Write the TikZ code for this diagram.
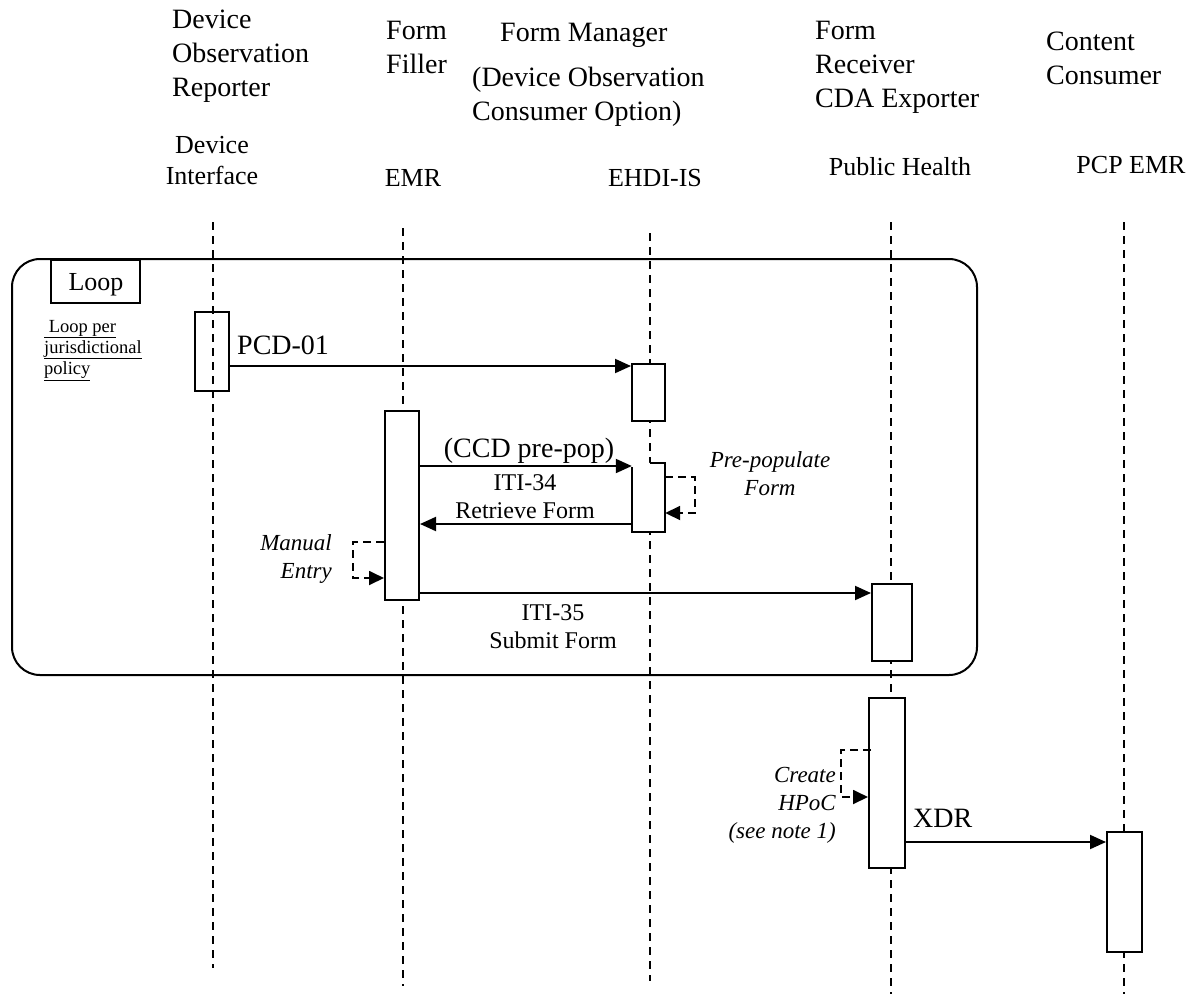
\documentclass[tikz,border=0pt]{standalone}
\usepackage{fontspec}
\setmainfont{Liberation Serif}
\usetikzlibrary{arrows.meta,calc}
\begin{document}
\begin{tikzpicture}[x=1pt,y=-1pt,
  hdr/.style={inner sep=0pt,font=\fontsize{28}{34}\selectfont},
  sys/.style={inner sep=0pt,font=\fontsize{26}{31}\selectfont},
  big/.style={inner sep=0pt,font=\fontsize{28}{34}\selectfont},
  mid/.style={inner sep=0pt,font=\fontsize{24}{28}\selectfont,align=center},
  ital/.style={inner sep=0pt,font=\fontsize{23}{28}\selectfont\itshape},
  act/.style={draw,fill=white,line width=2pt,minimum width=34pt,inner sep=0pt},
  life/.style={line width=1.8pt,dash pattern=on 8pt off 6pt},
  msg/.style={line width=2pt,-{Triangle[length=16pt,width=14pt]}},
  selfm/.style={line width=1.8pt,dash pattern=on 8pt off 5pt,-{Triangle[length=15pt,width=14pt]}}]
\useasboundingbox (0,0) rectangle (1199,994);

% headers
\node[hdr,align=left,anchor=north west] (hDOR) at (172,10) {Device\\Observation\\Reporter};
\node[sys,align=center,anchor=north] (hDI) at (212,136) {Device\\Interface};
\node[hdr,align=left,anchor=north west] (hFF) at (386,21) {Form\\Filler};
\node[sys,anchor=base] (hEMR) at (413,186) {EMR};
\node[hdr,anchor=base west] (hFM) at (500,41) {Form Manager};
\node[hdr,align=left,anchor=north west] (hDOC) at (472,67) {(Device Observation\\Consumer Option)};
\node[sys,anchor=base] (hEH) at (655,186) {EHDI-IS};
\node[hdr,align=left,anchor=north west] (hFR) at (815,21) {Form\\Receiver\\CDA Exporter};
\node[sys,anchor=base] (hPH) at (900,175) {Public Health};
\node[hdr,align=left,anchor=north west] (hCC) at (1046,32) {Content\\Consumer};
\node[sys,anchor=base] (hPCP) at (1131,173) {PCP EMR};

% lifelines
\coordinate (L1t) at (213,222); \coordinate (L1b) at (213,968);
\coordinate (L2t) at (403,228); \coordinate (L2b) at (403,986);
\coordinate (L3t) at (650,233); \coordinate (L3b) at (650,981);
\coordinate (L4t) at (891,222); \coordinate (L4b) at (891,994);
\coordinate (L5t) at (1124,222); \coordinate (L5b) at (1124,994);
\draw[life] (L1t) -- (L1b);
\draw[life] (L2t) -- (L2b);
\draw[life] (L3t) -- (L3b);
\draw[life] (L4t) -- (L4b);
\draw[life] (L5t) -- (L5b);

% loop frame
\draw[line width=2pt,rounded corners=28pt] (12,259) rectangle (977,675);
\node[draw,line width=1.8pt,minimum width=89pt,minimum height=43pt,inner sep=0pt] (loopbox) at (95.5,281.5) {};
\node[inner sep=0pt,font=\fontsize{26}{30}\selectfont,anchor=base] (looplbl) at (96,290) {Loop};
\node[inner sep=0pt,font=\fontsize{18.5}{21}\selectfont,align=left,anchor=north west] (loopnote) at (44,320)
  {\underline{\ Loop per}\\\underline{jurisdictional}\\\underline{policy}};

% activations
\node[act,fill=none,minimum height=79pt] (A1) at (212,351.5) {};
\node[act,minimum width=33pt,minimum height=57pt] (A2) at (648.5,392.5) {};
\node[act,minimum height=189pt] (A3) at (402,505.5) {};
\node[inner sep=0pt,minimum width=33pt,minimum height=69pt] (A4) at (648.5,497.5) {};
\draw[line width=2pt,fill=white] ([xshift=1.5pt]A4.north) -- (A4.north east) -- (A4.south east) -- (A4.south west) -- ([yshift=-4pt]A4.north west);
\node[act,minimum width=40pt,minimum height=77pt] (A5) at (892,622.5) {};
\node[act,minimum width=36pt,minimum height=170pt] (A6) at (887,783) {};
\node[act,minimum width=35pt,minimum height=120pt] (A7) at (1124.5,892) {};

% PCD-01
\coordinate (yPCD) at (0,366);
\draw[msg] (A1.east |- yPCD) -- (A2.west |- yPCD);
\node[big,anchor=base west] (lPCD) at (237,354) {PCD-01};

% CCD pre-pop / ITI-34
\coordinate (yCCD) at (0,466);
\draw[msg] (A3.east |- yCCD) -- (A4.west |- yCCD);
\node[big,anchor=base] (lCCD) at (529,457) {(CCD pre-pop)};
\coordinate (yRet) at (0,524);
\draw[msg] (A4.west |- yRet) -- (A3.east |- yRet);
\node[mid,anchor=north] (lITI34) at (525,474) {ITI-34\\Retrieve Form};

% pre-populate self message
\coordinate (sp1) at (695,477);
\coordinate (sp2) at (695,513);
\draw[selfm] (A4.east |- sp1) -- (sp1) -- (sp2) -- (A4.east |- sp2);
\node[ital,align=center,anchor=north] (lPre) at (770,451) {Pre-populate\\Form};

% manual entry self message
\coordinate (sm1) at (353,542);
\coordinate (sm2) at (353,578);
\draw[selfm] (A3.west |- sm1) -- (sm1) -- (sm2) -- (A3.west |- sm2);
\node[ital,align=right,anchor=north east] (lMan) at (332,534) {Manual\\Entry};

% ITI-35
\coordinate (y35) at (0,593);
\draw[msg] (A3.east |- y35) -- (A5.west |- y35);
\node[mid,anchor=north] (lITI35) at (553,604) {ITI-35\\Submit Form};

% create HPoC self message
\coordinate (sh1) at (841,750);
\coordinate (sh2) at (841,797);
\draw[selfm] ([xshift=3pt]A6.west |- sh1) -- (sh1) -- (sh2) -- (A6.west |- sh2);
\node[ital,align=right,anchor=north east] (lHP) at (836,767) {Create\\HPoC\\(see note 1)};

% XDR
\coordinate (yXDR) at (0,842);
\draw[msg] (A6.east |- yXDR) -- (A7.west |- yXDR);
\node[big,anchor=base west] (lXDR) at (913,827) {XDR};
\end{tikzpicture}
\end{document}
